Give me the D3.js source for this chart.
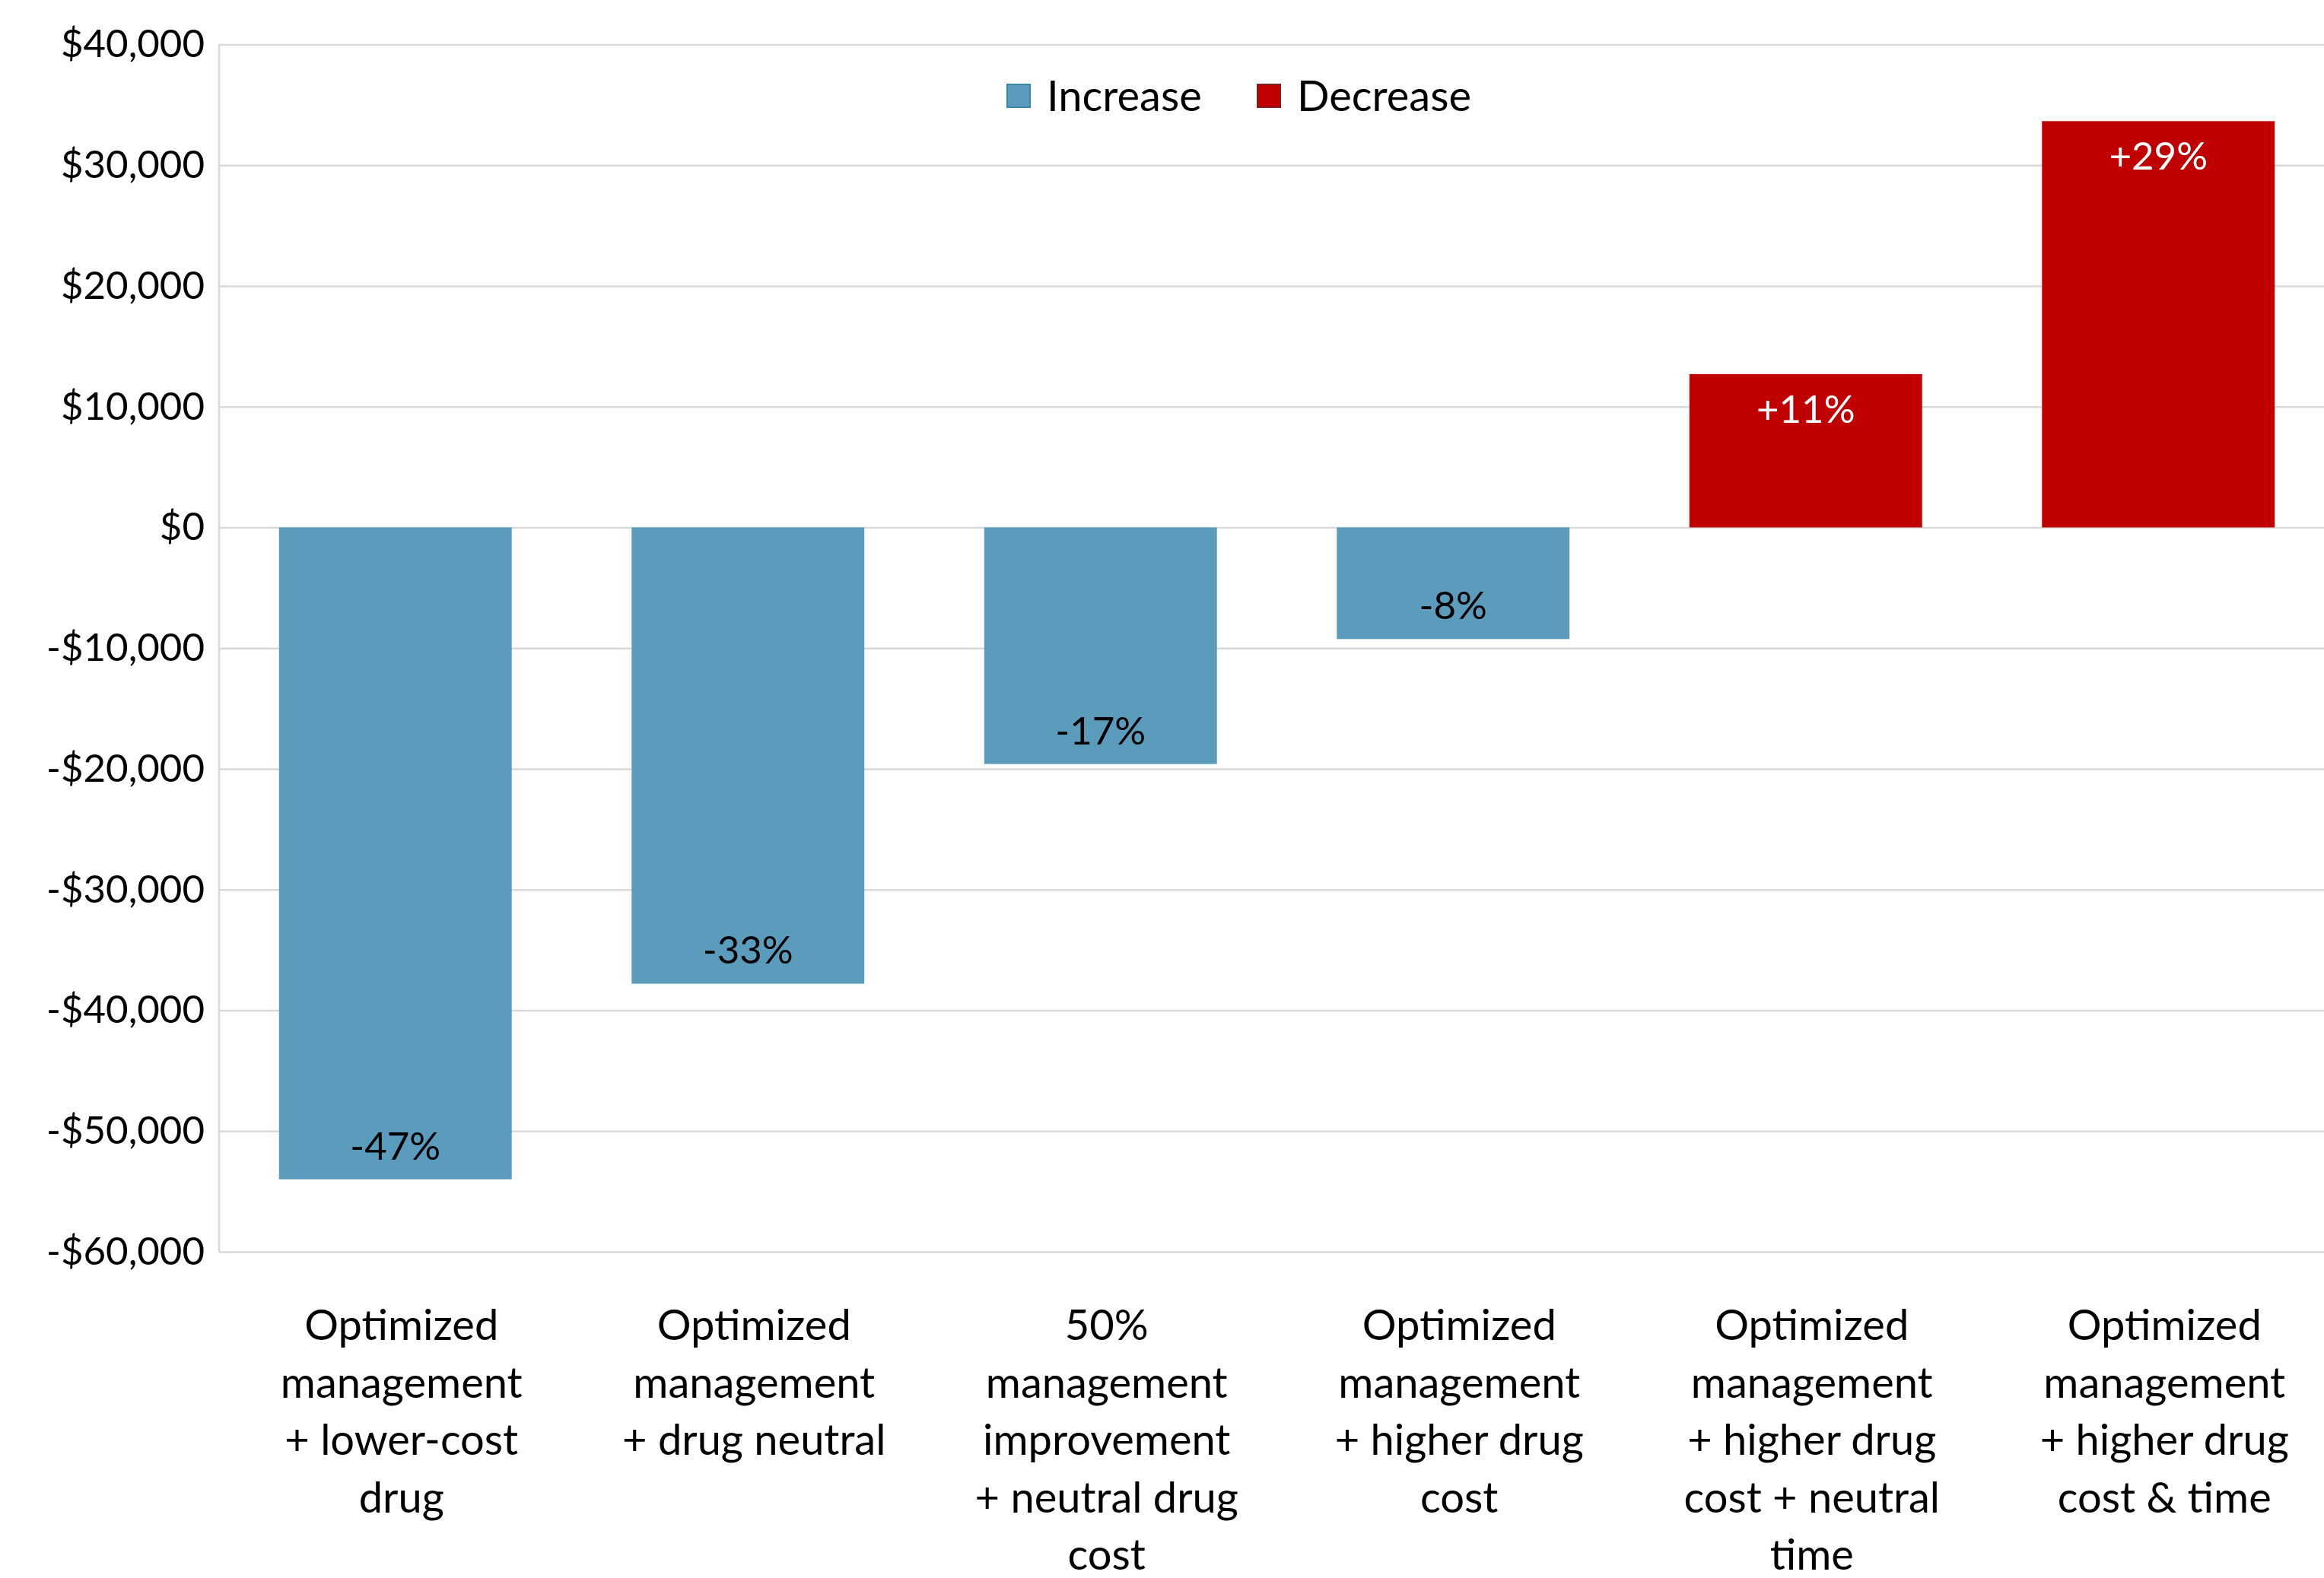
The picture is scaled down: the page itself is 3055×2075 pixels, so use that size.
<!DOCTYPE html>
<html>
<head>
<meta charset="utf-8">
<script src="https://cdn.jsdelivr.net/npm/d3@7"></script>
<style>
  body { margin: 0; background: #fff; }
  text { font-family: Lato, "Open Sans", sans-serif; }
</style>
</head>
<body>
<div id="chart"></div>
<script>
// data
const categories = [
  ["Optimized", "management", "+ lower-cost", "drug"],
  ["Optimized", "management", "+ drug neutral"],
  ["50%", "management", "improvement", "+ neutral drug", "cost"],
  ["Optimized", "management", "+ higher drug", "cost"],
  ["Optimized", "management", "+ higher drug", "cost + neutral", "time"],
  ["Optimized", "management", "+ higher drug", "cost & time"]
];
const values = [-54000, -37800, -19600, -9250, 12700, 33650];
const series = ["Increase", "Increase", "Increase", "Increase", "Decrease", "Decrease"];
const pctLabels = ["-47%", "-33%", "-17%", "-8%", "+11%", "+29%"];
const yTicks = [40000, 30000, 20000, 10000, 0, -10000, -20000, -30000, -40000, -50000, -60000];
const legendItems = ["Increase", "Decrease"];

const W = 3055, H = 2075;
const plot = { left: 288, right: 3069, top: 58.5, bottom: 1646 };
const tickFont = 51;
const textFont = 56;

const colors = { Increase: "#5b9bbb", Decrease: "#c00000" };
const strokes = { Increase: "#3d87a6", Decrease: "#7a2222" };

const svg = d3.select("#chart").append("svg")
  .attr("width", W)
  .attr("height", H)
  .style("display", "block");

const x = d3.scaleBand()
  .domain(d3.range(categories.length))
  .range([plot.left, plot.right])
  .paddingInner(0.34)
  .paddingOuter(0.17);

const y = d3.scaleLinear()
  .domain([-60000, 40000])
  .range([plot.bottom, plot.top]);

const money = d3.format(",");
const fmtTick = v => v < 0 ? "-$" + money(-v) : "$" + money(v);

// gridlines
svg.append("g")
  .attr("transform", `translate(${plot.left},0)`)
  .call(d3.axisLeft(y).tickValues(yTicks).tickSize(-(plot.right - plot.left)).tickFormat(""))
  .call(g => g.select(".domain").remove())
  .call(g => g.selectAll("line").attr("stroke", "#d9d9d9").attr("stroke-width", 2.5));

// left axis line
svg.append("line")
  .attr("x1", plot.left).attr("x2", plot.left)
  .attr("y1", plot.top).attr("y2", plot.bottom)
  .attr("stroke", "#d9d9d9")
  .attr("stroke-width", 2.5);

// y tick labels
svg.append("g")
  .attr("transform", `translate(${plot.left},0)`)
  .call(d3.axisLeft(y).tickValues(yTicks).tickSize(0).tickPadding(19).tickFormat(fmtTick))
  .call(g => g.select(".domain").remove())
  .call(g => g.selectAll("text")
    .attr("font-size", tickFont)
    .attr("fill", "#000")
    .style("font-family", "Lato, sans-serif"));

// bars
svg.append("g")
  .selectAll("rect")
  .data(values)
  .join("rect")
  .attr("x", (d, i) => x(i))
  .attr("width", x.bandwidth())
  .attr("y", d => y(Math.max(0, d)))
  .attr("height", d => Math.abs(y(d) - y(0)))
  .attr("fill", (d, i) => colors[series[i]]);

// value labels, inside end
svg.append("g")
  .selectAll("text")
  .data(values)
  .join("text")
  .attr("x", (d, i) => x(i) + x.bandwidth() / 2)
  .attr("y", d => d < 0 ? y(d) - 44 : y(d) + 46)
  .attr("dy", "0.35em")
  .attr("text-anchor", "middle")
  .attr("font-size", tickFont)
  .attr("fill", d => d < 0 ? "#000" : "#fff")
  .text((d, i) => pctLabels[i]);

// category labels
const cat = svg.append("g")
  .selectAll("text")
  .data(categories)
  .join("text")
  .attr("text-anchor", "middle")
  .attr("font-size", textFont)
  .attr("fill", "#000")
  .attr("transform", (d, i) => `translate(${x(i) + x.bandwidth() / 2 + 8},1762)`);

cat.selectAll("tspan")
  .data(d => d)
  .join("tspan")
  .attr("x", 0)
  .attr("y", (d, i) => i * 75.5)
  .text(d => d);

// legend
const legendX = [1323, 1652];
const lg = svg.append("g")
  .selectAll("g")
  .data(legendItems)
  .join("g")
  .attr("transform", (d, i) => `translate(${legendX[i]},110)`);

lg.append("rect")
  .attr("x", 1).attr("y", 1)
  .attr("width", 30).attr("height", 30)
  .attr("fill", d => colors[d])
  .attr("stroke", d => strokes[d])
  .attr("stroke-width", 2);

lg.append("text")
  .attr("x", 53)
  .attr("y", 16)
  .attr("dy", "0.35em")
  .attr("font-size", textFont)
  .attr("fill", "#000")
  .text(d => d);
</script>
</body>
</html>
